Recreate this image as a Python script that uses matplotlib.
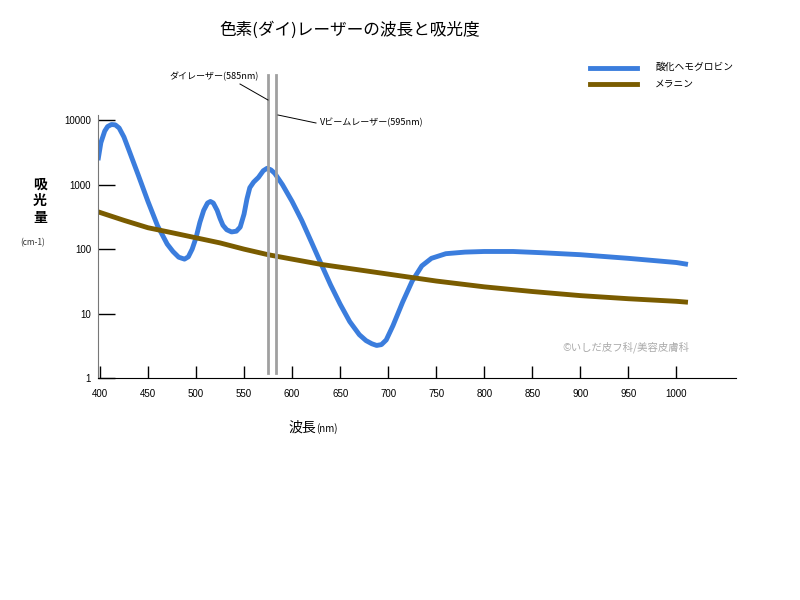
import matplotlib
matplotlib.use("Agg")
import matplotlib.pyplot as plt
from matplotlib.lines import Line2D

plt.rcParams['font.family'] = ['Noto Sans CJK JP', 'DejaVu Sans']

hb_nm = [398,401,405,408,412,416,420,425,430,440,450,460,470,476,482,488,492,496,500,504,508,512,515,518,522,525,528,532,537,542,546,550,553,556,560,565,570,574,578,582,590,600,610,620,630,640,650,660,670,677,683,688,693,698,705,715,725,735,745,760,780,800,830,860,900,950,1000,1012]
hb_val = [2400,4500,6800,8000,8600,8500,7600,5500,3500,1400,550,230,120,92,75,70,76,100,150,260,400,520,550,520,400,300,235,200,185,190,220,350,600,900,1100,1300,1650,1800,1700,1500,1000,550,280,130,60,28,14,7.5,4.7,3.8,3.4,3.2,3.3,3.9,6.5,15,32,55,72,85,90,92,92,88,82,72,62,58]
mel_nm = [398,425,450,475,500,525,550,575,600,630,660,700,750,800,850,900,950,1000,1012]
mel_val = [380,280,215,180,150,125,100,82,70,58,50,41,32,26,22,19,17,15.5,15]
xticks = [400,450,500,550,600,650,700,750,800,850,900,950,1000]
yticks = [1,10,100,1000,10000]
ylabels = ['1','10','100','1000','10000']
laser_x = [575, 583]

fig = plt.figure(figsize=(8,6), dpi=100)
ax = fig.add_axes([0.1225, 0.37, 0.7975, 0.438])
blue = '#3b7ddd'; brown = '#7a5c00'
ax.plot(hb_nm, hb_val, color=blue, lw=3.5, solid_capstyle='butt', solid_joinstyle='round')
ax.plot(mel_nm, mel_val, color=brown, lw=3.5, solid_capstyle='butt', solid_joinstyle='round')
ax.set_yscale('log')
ax.set_xlim(398, 1062)
ax.set_ylim(1, 12000)
for s in ['top','right']:
    ax.spines[s].set_visible(False)
ax.spines['left'].set_color('#777777')
ax.set_xticks(xticks)
ax.set_xticklabels([str(t) for t in xticks], fontsize=7, family=['Liberation Sans'])
ax.set_yticks(yticks)
ax.set_yticklabels(ylabels, fontsize=7, family=['Liberation Sans'])
ax.minorticks_off()
ax.tick_params(axis='x', direction='in', length=9, width=1, pad=8)
ax.tick_params(axis='y', direction='in', length=12, width=1, pad=5)
for lx in laser_x:
    ax.axvline(lx, ymin=0.02, ymax=1.152, color='#a0a0a0', lw=2, clip_on=False)

fig.text(0.4375, 0.95, '色素(ダイ)レーザーの波長と吸光度', fontsize=12, ha='center', va='center')
fig.text(0.05, 0.693, '吸', fontsize=10, ha='center', va='center', weight='bold')
fig.text(0.05, 0.665, '光', fontsize=10, ha='center', va='center', weight='bold')
fig.text(0.05, 0.637, '量', fontsize=10, ha='center', va='center', weight='bold')
fig.text(0.041, 0.595, '(cm-1)', fontsize=6, ha='center', va='center', color='#333333')
fig.text(0.395, 0.288, '波長', fontsize=10, ha='right', va='center')
fig.text(0.395, 0.285, '(nm)', fontsize=7, ha='left', va='center')

fig.text(0.212, 0.872, 'ダイレーザー(585nm)', fontsize=6.5, ha='left', va='center')
fig.add_artist(Line2D([240/800, 268/800], [1-84/600, 1-100/600], color='black', lw=0.7))
fig.text(0.4, 0.795, 'Vビームレーザー(595nm)', fontsize=6.5, ha='left', va='center')
fig.add_artist(Line2D([278/800, 316/800], [1-115/600, 1-123/600], color='black', lw=0.7))

fig.add_artist(Line2D([590/800, 637/800], [1-68/600]*2, color=blue, lw=3.5))
fig.add_artist(Line2D([590/800, 637/800], [1-84/600]*2, color=brown, lw=3.5))
fig.text(655/800, 1-67/600, '酸化ヘモグロビン', fontsize=7, ha='left', va='center')
fig.text(655/800, 1-84/600, 'メラニン', fontsize=7, ha='left', va='center')
fig.text(562/800, 1-347/600, '©いしだ皮フ科/美容皮膚科', fontsize=7.5, ha='left', va='center', color='#aaaaaa')

fig.savefig('out.png', dpi=100)
